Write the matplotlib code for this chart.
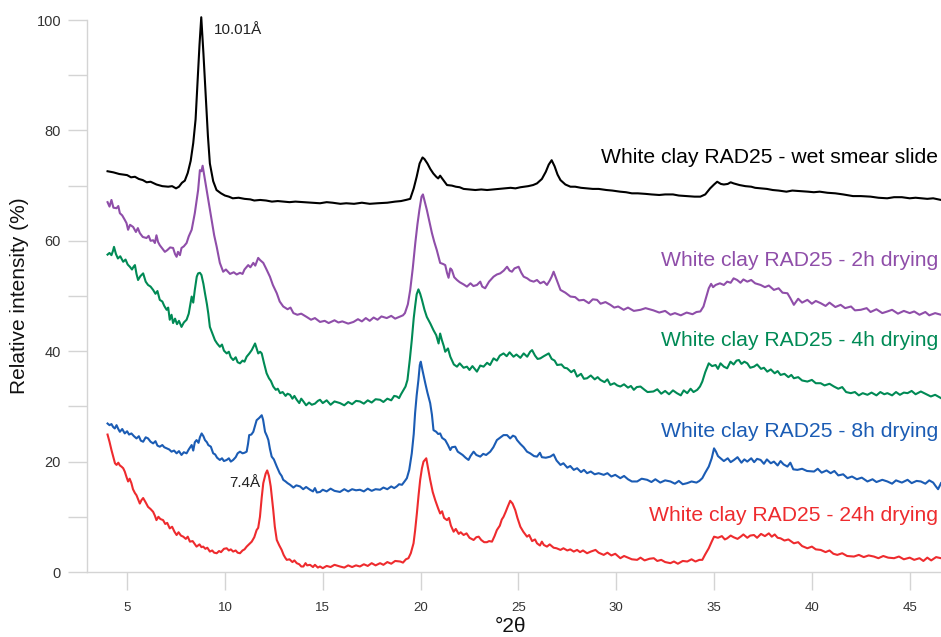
import matplotlib
matplotlib.use("Agg")
import matplotlib.pyplot as plt

plt.rcParams['font.family'] = ['Liberation Sans', 'DejaVu Sans']

# ---- data (°2θ, relative intensity %) ----
wet_smear = [(4.0,72.6),(4.3,72.4),(4.6,72.1),(5.0,71.9),(5.2,71.5),(5.4,71.6),(5.6,71.2),(5.8,71.0),(6.0,70.6),(6.2,70.7),(6.5,70.2),(6.8,69.9),(7.1,69.8),(7.3,69.9),(7.5,69.5),(7.65,69.8),(7.8,70.5),(7.95,70.9),(8.1,72.3),(8.25,74.5),(8.38,77.7),(8.5,82.0),(8.6,88.6),(8.7,95.5),(8.79,100.5),(8.9,94.0),(9.03,85.5),(9.13,79.0),(9.23,74.0),(9.4,70.8),(9.57,69.2),(9.8,68.6),(10.0,68.2),(10.2,68.0),(10.4,67.7),(10.7,67.8),(11.0,67.6),(11.3,67.5),(11.5,67.3),(11.8,67.4),(12.1,67.3),(12.4,67.1),(12.7,67.2),(13.0,67.1),(13.3,67.0),(13.6,67.1),(14.0,67.0),(14.4,66.9),(14.86,66.8),(15.2,67.0),(15.5,66.9),(15.9,66.7),(16.2,66.8),(16.6,66.7),(17.0,66.9),(17.4,66.7),(17.8,66.8),(18.3,66.9),(18.7,67.1),(19.0,67.2),(19.25,67.4),(19.47,67.6),(19.65,69.5),(19.8,71.6),(19.95,74.0),(20.1,75.1),(20.2,74.8),(20.35,74.0),(20.5,73.0),(20.65,72.2),(20.8,71.6),(20.9,71.3),(21.0,71.8),(21.1,71.3),(21.35,70.1),(21.6,70.0),(21.8,69.8),(22.0,69.7),(22.2,69.4),(22.5,69.3),(22.8,69.2),(23.1,69.3),(23.4,69.2),(23.7,69.3),(24.0,69.4),(24.3,69.5),(24.6,69.6),(24.85,69.5),(25.1,69.7),(25.3,69.8),(25.5,69.9),(25.75,70.1),(25.95,70.4),(26.2,71.2),(26.4,72.5),(26.55,73.8),(26.7,74.6),(26.85,73.5),(27.0,72.0),(27.15,71.0),(27.4,70.2),(27.66,69.8),(27.9,69.8),(28.2,69.6),(28.5,69.5),(28.8,69.4),(29.1,69.4),(29.5,69.2),(29.8,69.1),(30.2,68.9),(30.5,68.8),(30.8,68.6),(31.1,68.6),(31.5,68.5),(31.8,68.4),(32.2,68.3),(32.5,68.4),(32.9,68.4),(33.2,68.2),(33.6,68.1),(34.0,68.0),(34.3,68.0),(34.55,68.4),(34.8,69.5),(35.0,70.2),(35.16,70.7),(35.35,70.3),(35.5,70.2),(35.7,70.3),(35.85,70.6),(36.0,70.4),(36.3,70.1),(36.6,69.9),(36.9,69.8),(37.1,69.6),(37.4,69.5),(37.7,69.4),(38.0,69.2),(38.3,69.1),(38.7,68.9),(39.0,69.1),(39.4,69.0),(39.8,68.9),(40.1,68.8),(40.4,68.9),(40.8,68.7),(41.2,68.6),(41.6,68.4),(42.1,68.1),(42.5,68.1),(43.0,68.0),(43.4,67.8),(43.85,67.7),(44.2,67.9),(44.6,67.9),(45.0,67.7),(45.3,67.8),(45.6,67.7),(45.9,67.6),(46.2,67.7),(46.6,67.4)]

drying_2h = [(4.0,67.0),(4.1,66.2),(4.2,67.4),(4.3,66.0),(4.46,65.9),(4.55,66.3),(4.63,65.0),(4.75,64.6),(4.88,63.8),(4.97,63.2),(5.05,62.0),(5.15,62.9),(5.31,62.5),(5.45,61.6),(5.55,62.3),(5.65,61.4),(5.8,60.7),(5.99,60.5),(6.1,60.9),(6.2,60.0),(6.33,60.1),(6.42,59.6),(6.5,61.0),(6.58,59.8),(6.67,59.2),(6.8,58.6),(6.93,58.0),(7.05,58.3),(7.2,58.8),(7.35,58.7),(7.45,57.6),(7.53,57.1),(7.6,58.0),(7.7,57.4),(7.78,58.7),(7.9,59.0),(8.04,59.6),(8.15,60.8),(8.3,62.0),(8.46,65.0),(8.63,69.2),(8.72,72.8),(8.8,72.6),(8.86,73.6),(8.98,71.0),(9.15,67.4),(9.32,63.8),(9.45,61.0),(9.58,58.9),(9.74,56.0),(9.91,54.4),(10.05,54.8),(10.26,54.0),(10.45,54.3),(10.6,53.9),(10.77,54.2),(10.9,54.0),(11.0,54.8),(11.19,55.6),(11.3,55.2),(11.45,56.0),(11.55,55.5),(11.7,56.9),(11.8,56.5),(11.96,56.0),(12.1,55.0),(12.3,53.5),(12.45,52.0),(12.65,50.5),(12.8,49.0),(12.98,48.1),(13.2,47.6),(13.35,47.9),(13.5,46.9),(13.7,46.6),(13.9,46.8),(14.18,46.2),(14.4,45.7),(14.6,46.0),(14.86,45.3),(15.1,45.5),(15.3,45.1),(15.6,45.6),(15.8,45.2),(16.0,45.4),(16.3,45.0),(16.57,45.3),(16.8,45.8),(17.0,45.4),(17.2,46.0),(17.4,45.5),(17.6,46.1),(17.8,45.7),(18.0,46.3),(18.27,46.0),(18.5,46.4),(18.7,45.9),(18.96,46.3),(19.1,46.5),(19.2,46.9),(19.35,48.5),(19.47,51.1),(19.6,55.0),(19.73,59.6),(19.84,63.0),(19.94,65.6),(20.05,68.0),(20.12,68.4),(20.22,67.0),(20.32,65.6),(20.45,63.5),(20.58,61.4),(20.7,59.8),(20.83,58.3),(21.0,56.0),(21.15,55.8),(21.26,55.6),(21.35,54.2),(21.43,53.3),(21.52,55.0),(21.6,54.7),(21.72,53.4),(21.86,52.9),(22.0,52.5),(22.2,52.1),(22.37,51.7),(22.55,52.3),(22.7,51.8),(22.88,52.0),(23.05,52.6),(23.15,51.7),(23.3,51.4),(23.5,52.6),(23.73,53.5),(23.9,53.9),(24.07,54.1),(24.25,54.6),(24.42,55.3),(24.55,54.6),(24.67,54.4),(24.8,55.0),(25.01,55.3),(25.15,54.2),(25.27,53.5),(25.45,53.2),(25.6,52.8),(25.78,52.6),(25.95,52.9),(26.12,52.3),(26.3,52.6),(26.46,52.0),(26.6,52.8),(26.7,53.5),(26.8,54.4),(26.95,53.0),(27.15,51.1),(27.4,50.6),(27.66,49.9),(27.9,49.8),(28.1,49.2),(28.34,49.3),(28.6,48.7),(28.8,49.4),(29.02,49.3),(29.2,48.6),(29.45,48.9),(29.7,48.4),(29.9,47.9),(30.1,48.1),(30.38,47.5),(30.6,47.9),(30.9,47.3),(31.24,47.5),(31.5,47.8),(31.9,47.4),(32.2,47.0),(32.5,47.3),(32.77,46.6),(33.0,46.9),(33.3,46.5),(33.6,47.0),(33.9,46.7),(34.1,47.1),(34.3,47.2),(34.46,48.1),(34.6,49.8),(34.73,51.4),(34.85,52.2),(34.95,51.6),(35.08,52.0),(35.3,52.3),(35.5,52.0),(35.67,52.6),(35.85,52.4),(36.0,53.2),(36.18,52.9),(36.35,52.4),(36.5,53.0),(36.7,52.6),(36.9,52.9),(37.1,52.3),(37.38,52.0),(37.6,51.6),(37.8,51.9),(38.06,51.1),(38.3,51.4),(38.5,50.6),(38.75,50.5),(38.9,49.6),(39.08,48.4),(39.3,49.5),(39.5,48.8),(39.77,49.3),(40.0,48.6),(40.2,49.1),(40.45,48.7),(40.7,48.2),(40.9,48.8),(41.2,48.0),(41.47,48.4),(41.7,47.8),(42.0,48.1),(42.2,47.4),(42.5,47.5),(42.8,47.8),(43.0,47.1),(43.3,47.6),(43.6,46.9),(43.86,47.2),(44.1,47.5),(44.4,46.8),(44.7,47.3),(45.0,46.9),(45.23,47.2),(45.5,46.6),(45.8,47.1),(46.0,46.5),(46.3,46.9),(46.6,46.6)]

drying_4h = [(4.0,57.5),(4.1,57.8),(4.2,57.4),(4.28,58.2),(4.33,58.9),(4.43,57.6),(4.53,56.8),(4.65,57.2),(4.8,56.2),(4.92,56.6),(5.03,55.7),(5.14,55.3),(5.25,54.8),(5.33,55.3),(5.4,55.6),(5.48,54.0),(5.56,52.9),(5.68,53.6),(5.82,54.1),(5.95,52.6),(6.07,52.0),(6.2,51.7),(6.33,51.1),(6.45,50.4),(6.55,50.9),(6.67,49.3),(6.8,49.0),(6.9,48.2),(7.02,47.5),(7.1,47.9),(7.18,45.7),(7.27,46.6),(7.35,45.1),(7.45,45.9),(7.55,44.9),(7.65,45.5),(7.78,44.4),(7.9,45.2),(8.04,45.7),(8.15,46.8),(8.3,49.9),(8.38,48.8),(8.46,51.1),(8.56,53.5),(8.63,54.1),(8.72,54.2),(8.8,53.8),(8.9,52.2),(8.98,50.5),(9.08,48.5),(9.15,46.8),(9.23,44.4),(9.35,43.3),(9.49,42.0),(9.6,41.4),(9.74,40.8),(9.85,41.2),(9.95,40.1),(10.09,39.6),(10.2,39.9),(10.3,38.9),(10.42,38.4),(10.55,38.9),(10.65,38.0),(10.77,37.8),(10.9,38.3),(11.0,38.1),(11.11,39.0),(11.25,39.6),(11.37,40.2),(11.47,40.9),(11.54,41.4),(11.62,40.5),(11.7,39.6),(11.8,39.9),(11.88,39.6),(12.0,37.8),(12.13,36.0),(12.25,35.1),(12.35,34.6),(12.47,33.6),(12.6,33.0),(12.7,33.2),(12.82,32.4),(12.95,32.6),(13.1,31.9),(13.2,32.3),(13.33,32.1),(13.45,31.4),(13.55,31.9),(13.67,31.2),(13.8,30.6),(13.9,31.4),(14.01,30.9),(14.15,30.2),(14.3,30.7),(14.44,30.3),(14.6,30.5),(14.75,31.0),(14.86,31.2),(15.0,30.6),(15.2,31.1),(15.4,30.3),(15.6,30.9),(15.88,30.6),(16.1,30.2),(16.3,30.8),(16.5,30.4),(16.7,31.0),(16.9,30.9),(17.1,30.5),(17.3,31.1),(17.5,30.7),(17.7,31.3),(17.93,31.2),(18.1,30.8),(18.3,31.4),(18.5,31.1),(18.65,31.9),(18.78,31.8),(18.9,31.5),(19.0,32.2),(19.13,33.0),(19.23,33.6),(19.33,34.8),(19.45,38.5),(19.55,42.0),(19.65,46.0),(19.72,48.1),(19.8,50.3),(19.89,51.2),(19.98,50.4),(20.07,49.3),(20.2,47.5),(20.32,46.2),(20.5,45.0),(20.66,43.8),(20.8,42.9),(20.92,41.4),(21.0,43.2),(21.09,42.0),(21.18,41.0),(21.26,39.9),(21.4,40.5),(21.52,39.0),(21.7,37.6),(21.86,37.2),(22.0,37.8),(22.2,37.0),(22.37,37.2),(22.5,36.6),(22.65,37.3),(22.88,36.3),(23.05,37.4),(23.22,37.2),(23.4,37.9),(23.55,37.5),(23.73,38.7),(23.9,38.3),(24.05,39.2),(24.24,39.6),(24.4,39.1),(24.55,39.8),(24.75,39.0),(24.9,39.4),(25.1,38.8),(25.27,39.6),(25.45,39.0),(25.6,39.9),(25.7,40.2),(25.85,39.2),(25.98,38.6),(26.12,38.7),(26.3,39.1),(26.45,39.4),(26.55,39.6),(26.7,38.6),(26.85,38.3),(26.98,37.5),(27.2,37.6),(27.35,37.0),(27.49,36.9),(27.7,36.2),(27.85,36.6),(28.0,35.4),(28.2,35.9),(28.35,35.0),(28.51,35.1),(28.7,35.6),(28.9,34.9),(29.05,35.3),(29.19,34.8),(29.4,34.4),(29.55,34.9),(29.7,33.9),(29.9,34.2),(30.05,33.8),(30.21,33.6),(30.4,34.0),(30.6,33.4),(30.75,33.7),(30.9,33.0),(31.05,33.5),(31.24,33.6),(31.45,33.0),(31.6,32.6),(31.9,32.7),(32.1,33.1),(32.3,32.3),(32.5,32.8),(32.7,32.2),(32.9,32.9),(33.1,32.4),(33.3,32.0),(33.45,32.9),(33.63,32.4),(33.8,33.2),(33.95,32.6),(34.14,33.0),(34.28,33.6),(34.4,34.5),(34.55,36.2),(34.73,37.8),(34.9,37.3),(35.08,37.5),(35.2,36.8),(35.33,37.8),(35.5,37.2),(35.67,36.9),(35.84,38.1),(36.0,37.6),(36.15,38.3),(36.27,38.4),(36.4,37.7),(36.55,38.1),(36.7,37.8),(36.85,37.0),(37.04,37.2),(37.2,37.6),(37.4,36.8),(37.55,37.0),(37.72,36.3),(37.9,36.7),(38.1,36.0),(38.25,36.4),(38.4,35.7),(38.6,35.9),(38.8,35.3),(38.95,35.7),(39.08,35.1),(39.3,35.3),(39.5,34.7),(39.77,34.5),(40.0,34.8),(40.2,34.2),(40.45,34.2),(40.65,33.8),(40.9,34.1),(41.13,33.6),(41.35,33.2),(41.55,33.5),(41.75,32.6),(41.99,32.4),(42.2,32.6),(42.4,32.0),(42.6,32.4),(42.84,32.1),(43.05,32.5),(43.3,32.0),(43.5,32.6),(43.7,32.2),(43.86,32.4),(44.1,32.0),(44.3,32.6),(44.5,32.1),(44.7,32.5),(44.89,32.4),(45.1,32.8),(45.3,32.2),(45.57,32.7),(45.8,32.3),(46.08,31.8),(46.3,32.1),(46.6,31.5)]

drying_8h = [(4.0,26.9),(4.1,26.6),(4.2,26.8),(4.28,26.3),(4.37,26.0),(4.46,26.6),(4.55,25.9),(4.63,25.4),(4.75,25.9),(4.88,25.1),(5.0,25.5),(5.1,24.9),(5.22,25.1),(5.35,24.6),(5.48,24.2),(5.6,24.6),(5.7,23.8),(5.82,23.6),(5.95,24.4),(6.07,24.2),(6.2,23.6),(6.33,23.3),(6.45,23.7),(6.55,22.9),(6.67,22.7),(6.8,23.0),(6.9,22.6),(7.02,22.4),(7.15,22.2),(7.27,21.8),(7.4,22.0),(7.53,21.5),(7.65,21.9),(7.78,21.2),(7.9,21.7),(8.04,21.5),(8.15,22.2),(8.3,23.0),(8.38,22.0),(8.46,23.5),(8.55,23.9),(8.65,23.4),(8.72,24.4),(8.81,25.1),(8.9,24.6),(8.98,23.9),(9.08,23.5),(9.15,23.0),(9.28,22.7),(9.4,21.5),(9.5,21.3),(9.6,20.7),(9.74,20.3),(9.85,20.6),(9.95,20.1),(10.09,20.3),(10.2,20.6),(10.3,20.0),(10.42,20.3),(10.55,20.8),(10.65,21.5),(10.77,21.8),(10.9,21.5),(11.0,21.6),(11.11,21.8),(11.18,23.2),(11.24,24.8),(11.35,24.9),(11.45,25.4),(11.55,26.6),(11.62,27.5),(11.75,27.9),(11.88,28.4),(11.95,27.6),(12.05,25.4),(12.15,24.6),(12.22,23.9),(12.3,22.3),(12.39,20.9),(12.5,20.4),(12.65,19.1),(12.8,17.9),(12.9,17.4),(12.98,16.7),(13.1,16.4),(13.2,16.1),(13.33,15.8),(13.5,15.3),(13.65,15.7),(13.84,15.5),(14.0,15.0),(14.15,15.4),(14.35,14.9),(14.5,14.6),(14.6,15.2),(14.7,14.4),(14.86,14.5),(15.0,14.9),(15.2,14.6),(15.4,15.1),(15.6,14.7),(15.88,14.5),(16.1,15.0),(16.3,14.6),(16.5,15.0),(16.7,14.8),(16.9,14.9),(17.1,14.6),(17.3,15.1),(17.5,14.7),(17.7,15.0),(17.93,14.9),(18.1,15.3),(18.3,15.0),(18.5,15.5),(18.65,15.2),(18.78,15.5),(18.9,15.9),(19.05,15.8),(19.2,16.5),(19.3,17.0),(19.42,18.5),(19.55,21.5),(19.65,25.0),(19.72,28.8),(19.8,32.0),(19.89,34.8),(19.96,37.5),(20.01,38.1),(20.1,36.5),(20.24,34.2),(20.35,32.5),(20.49,30.6),(20.58,28.5),(20.66,25.7),(20.8,25.4),(20.9,25.0),(21.0,25.1),(21.1,24.3),(21.26,23.9),(21.4,23.0),(21.52,22.1),(21.6,22.6),(21.77,22.7),(21.9,21.8),(22.03,21.5),(22.15,21.2),(22.3,20.7),(22.45,20.3),(22.55,21.0),(22.71,21.8),(22.85,21.2),(23.05,20.9),(23.2,21.4),(23.35,21.2),(23.56,21.8),(23.72,22.6),(23.9,23.9),(24.05,24.3),(24.24,24.8),(24.42,24.8),(24.58,24.2),(24.72,24.7),(24.84,24.5),(24.93,23.9),(25.1,23.2),(25.27,22.6),(25.44,21.8),(25.6,21.5),(25.8,21.0),(25.95,20.9),(26.1,21.6),(26.2,20.8),(26.4,20.7),(26.63,20.9),(26.8,21.3),(26.95,20.2),(27.15,19.4),(27.3,19.7),(27.5,18.9),(27.65,19.2),(27.83,18.5),(28.0,18.8),(28.2,18.1),(28.35,18.5),(28.51,17.9),(28.7,18.2),(28.9,17.7),(29.1,17.9),(29.36,17.6),(29.55,17.9),(29.75,17.3),(29.95,17.6),(30.21,17.0),(30.4,17.4),(30.6,16.8),(30.8,16.4),(31.07,16.4),(31.3,16.9),(31.58,16.7),(31.8,16.3),(32.0,16.8),(32.25,16.2),(32.5,16.6),(32.77,16.4),(33.0,16.0),(33.2,16.5),(33.4,15.9),(33.63,16.1),(33.85,16.4),(34.1,16.2),(34.25,16.5),(34.4,17.0),(34.55,18.0),(34.73,19.1),(34.88,20.6),(35.0,22.4),(35.1,21.8),(35.2,21.0),(35.33,20.6),(35.5,20.1),(35.7,20.6),(35.85,19.9),(36.02,20.3),(36.2,20.8),(36.4,19.8),(36.55,20.4),(36.7,20.0),(36.9,20.6),(37.05,19.9),(37.2,20.5),(37.38,20.3),(37.55,19.6),(37.7,20.4),(37.9,19.7),(38.06,20.0),(38.25,19.3),(38.4,20.1),(38.55,19.5),(38.75,19.1),(38.9,19.8),(39.05,18.6),(39.26,18.5),(39.5,18.7),(39.75,18.3),(40.11,18.2),(40.3,18.7),(40.5,18.0),(40.75,18.4),(40.96,17.9),(41.15,18.3),(41.35,17.5),(41.6,17.7),(41.82,17.0),(42.05,17.3),(42.3,16.8),(42.55,17.1),(42.84,16.4),(43.1,16.8),(43.3,16.3),(43.6,16.7),(43.86,16.4),(44.1,16.0),(44.3,16.6),(44.6,16.2),(44.89,16.7),(45.1,16.1),(45.35,16.5),(45.57,16.4),(45.8,16.0),(46.0,16.6),(46.2,16.2),(46.34,15.5),(46.45,15.0),(46.6,16.1)]

drying_24h = [(4.0,24.9),(4.1,23.6),(4.2,22.1),(4.3,20.8),(4.38,19.7),(4.46,19.4),(4.55,19.8),(4.63,19.3),(4.71,19.1),(4.8,18.8),(4.88,18.2),(4.97,17.2),(5.05,16.4),(5.13,16.9),(5.22,16.1),(5.3,15.0),(5.4,14.3),(5.48,13.9),(5.56,13.2),(5.65,12.4),(5.73,13.0),(5.82,13.4),(5.95,12.6),(6.07,11.8),(6.2,11.4),(6.33,10.9),(6.42,10.2),(6.5,9.4),(6.6,10.0),(6.7,9.6),(6.84,9.4),(6.95,8.7),(7.05,8.9),(7.18,7.9),(7.3,8.2),(7.42,7.3),(7.53,6.7),(7.63,7.2),(7.75,6.6),(7.87,6.4),(8.0,6.0),(8.1,6.4),(8.21,5.5),(8.35,5.6),(8.45,5.1),(8.55,4.6),(8.7,5.0),(8.8,4.5),(8.89,4.6),(9.0,4.2),(9.1,4.4),(9.23,3.7),(9.35,3.9),(9.45,3.5),(9.58,3.4),(9.7,3.8),(9.8,3.6),(9.95,4.2),(10.09,4.3),(10.2,3.9),(10.3,4.1),(10.42,3.7),(10.55,3.9),(10.65,3.5),(10.77,3.4),(10.9,3.9),(11.0,4.1),(11.11,4.6),(11.25,5.1),(11.37,5.5),(11.5,6.3),(11.62,7.6),(11.7,8.0),(11.79,10.0),(11.88,13.5),(11.96,16.1),(12.08,17.8),(12.16,18.4),(12.25,17.4),(12.34,15.5),(12.4,13.5),(12.47,11.2),(12.55,8.2),(12.65,5.8),(12.78,4.8),(12.9,4.0),(13.0,3.1),(13.08,2.6),(13.16,2.2),(13.3,2.3),(13.45,1.8),(13.55,2.1),(13.67,1.6),(13.8,1.4),(13.9,1.0),(14.01,1.0),(14.12,1.6),(14.2,1.2),(14.35,1.3),(14.5,0.9),(14.6,1.3),(14.75,0.8),(14.86,1.0),(15.0,0.7),(15.2,1.1),(15.4,0.9),(15.6,1.3),(15.88,1.0),(16.1,0.8),(16.3,1.2),(16.5,0.9),(16.7,1.2),(16.9,1.0),(17.1,1.4),(17.3,1.1),(17.5,1.6),(17.7,1.2),(17.93,1.6),(18.1,1.3),(18.3,1.8),(18.5,1.5),(18.7,2.0),(18.96,1.9),(19.1,1.7),(19.25,2.3),(19.38,2.5),(19.5,3.4),(19.64,5.2),(19.72,7.5),(19.81,10.6),(19.9,14.0),(19.98,16.7),(20.07,18.8),(20.15,20.0),(20.29,20.6),(20.4,18.5),(20.49,16.7),(20.62,14.5),(20.75,13.0),(20.9,11.5),(21.0,10.6),(21.1,11.0),(21.2,9.8),(21.35,9.4),(21.45,9.8),(21.55,8.4),(21.69,7.3),(21.8,7.8),(21.95,6.9),(22.05,7.2),(22.2,6.7),(22.35,7.0),(22.5,6.2),(22.71,5.8),(22.85,6.3),(22.97,6.4),(23.1,5.8),(23.25,5.4),(23.39,5.4),(23.5,5.6),(23.65,5.5),(23.78,6.5),(23.9,7.6),(24.05,8.4),(24.15,9.5),(24.24,10.0),(24.35,10.9),(24.45,11.8),(24.58,12.9),(24.7,12.4),(24.84,11.2),(24.95,9.8),(25.1,8.2),(25.25,7.3),(25.44,6.4),(25.55,6.7),(25.7,5.6),(25.85,5.9),(25.95,5.2),(26.1,4.8),(26.2,5.5),(26.3,4.9),(26.46,4.6),(26.6,5.0),(26.8,4.4),(26.95,4.3),(27.15,4.0),(27.3,4.3),(27.5,3.9),(27.65,4.1),(27.83,3.7),(28.0,4.0),(28.15,3.6),(28.3,3.9),(28.51,3.4),(28.7,3.7),(28.94,4.0),(29.1,3.5),(29.36,3.1),(29.55,3.5),(29.75,3.0),(29.95,3.3),(30.21,2.5),(30.4,2.9),(30.6,2.6),(30.8,2.3),(31.07,2.2),(31.24,2.6),(31.45,2.1),(31.7,2.4),(31.92,2.5),(32.1,2.0),(32.3,2.2),(32.5,1.8),(32.77,1.6),(32.95,1.9),(33.15,1.5),(33.4,2.0),(33.63,1.9),(33.85,2.3),(34.05,1.9),(34.25,2.2),(34.4,2.2),(34.55,3.2),(34.73,4.3),(34.88,5.5),(35.0,6.4),(35.2,6.2),(35.4,6.5),(35.55,5.9),(35.67,6.1),(35.85,6.6),(36.0,6.3),(36.2,6.0),(36.36,6.4),(36.5,6.8),(36.7,6.2),(36.85,6.6),(37.04,6.7),(37.2,6.2),(37.4,6.9),(37.6,6.5),(37.8,7.0),(37.95,6.4),(38.1,6.8),(38.25,6.2),(38.4,6.1),(38.6,5.7),(38.8,5.9),(39.08,5.2),(39.3,5.4),(39.5,4.7),(39.77,4.3),(40.0,4.6),(40.2,4.1),(40.45,4.0),(40.7,3.6),(40.9,3.9),(41.1,3.3),(41.3,3.1),(41.55,3.4),(41.8,2.9),(42.15,2.8),(42.4,3.1),(42.65,2.7),(42.9,3.0),(43.17,2.8),(43.4,2.5),(43.65,2.9),(43.9,2.6),(44.2,2.5),(44.45,2.8),(44.7,2.3),(45.0,2.6),(45.23,2.2),(45.5,2.5),(45.7,2.0),(45.9,2.6),(46.1,2.1),(46.35,2.7),(46.6,2.5)]

series_labels = ["White clay RAD25 - wet smear slide", "White clay RAD25 - 2h drying",
                 "White clay RAD25 - 4h drying", "White clay RAD25 - 8h drying",
                 "White clay RAD25 - 24h drying"]
series_colors = ["#000000", "#8f4ea9", "#008a55", "#1b5cb4", "#ee2b2e"]
label_y = [75.0, 56.5, 42.0, 25.4, 10.3]
x_ticks = [5, 10, 15, 20, 25, 30, 35, 40, 45]
y_ticks_major = [0, 20, 40, 60, 80, 100]
y_ticks_minor = [10, 30, 50, 70, 90]

W, H = 941, 637
fig = plt.figure(figsize=(W/100, H/100), dpi=100)
ax = fig.add_axes([87/W, (H-572)/H, (W-87)/W, (572-20)/H])
ax.set_xlim(2.95, 46.6)
ax.set_ylim(0, 100)

all_series = [wet_smear, drying_2h, drying_4h, drying_8h, drying_24h]
for data, col in zip(all_series, series_colors):
    xs = [p[0] for p in data]
    ys = [p[1] for p in data]
    ax.plot(xs, ys, color=col, lw=1.5, clip_on=False, solid_joinstyle='round')

for lab, col, yy in zip(series_labels, series_colors, label_y):
    ax.text((938-87)/(W-87), yy, lab, transform=ax.get_yaxis_transform(), ha='right', va='center',
            fontsize=15.2, color=col)

ax.text(9.44, 98.2, "10.01Å", ha='left', va='center', fontsize=11, color='#222222')
ax.text(11.79, 16.1, "7.4Å", ha='right', va='center', fontsize=11, color='#222222')

gray = '#d4d4d4'
for s in ['top', 'right']:
    ax.spines[s].set_visible(False)
for s in ['left', 'bottom']:
    ax.spines[s].set_color(gray)
    ax.spines[s].set_linewidth(1.0)

ax.set_xticks(x_ticks)
ax.set_xticklabels([str(t) for t in x_ticks])
ax.set_yticks(y_ticks_major)
ax.set_yticklabels([str(t) for t in y_ticks_major])
ax.set_yticks(y_ticks_minor, minor=True)
ax.tick_params(axis='y', which='both', direction='out', length=13.7, width=1.0,
               color=gray, labelsize=10.5, labelcolor='#333333', pad=5)
ax.tick_params(axis='x', which='both', direction='out', length=13, width=1.0,
               color=gray, labelsize=9.5, labelcolor='#333333', pad=8.5)

ax.set_ylabel("Relative intensity (%)", fontsize=15, color='#111111')
ax.set_xlabel("°2θ", fontsize=15, color='#111111')
ax.yaxis.set_label_coords((20-87)/(W-87), 0.5)
ax.xaxis.set_label_coords((510-87)/(W-87), -(627-572)/(572-20))
ax.xaxis.label.set_va('center')
ax.yaxis.label.set_va('center')

fig.savefig("out.png", dpi=100)
